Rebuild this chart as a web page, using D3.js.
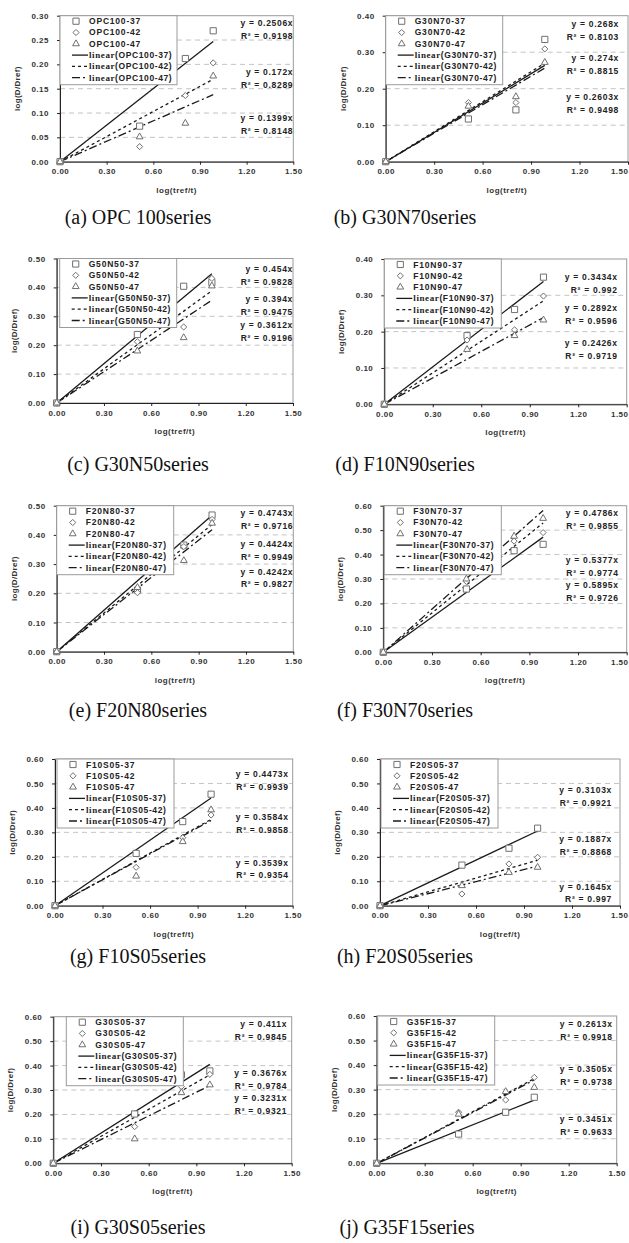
<!DOCTYPE html>
<html>
<head>
<meta charset="utf-8">
<script src="https://cdn.jsdelivr.net/npm/d3@7"></script>
<style>
body { margin: 0; background: #fff; }
</style>
</head>
<body>
<div id="chart"></div>
<script>
// ---- data ----
var xVals = [0, 0.512, 0.806, 0.985];
var xTickVals = [0, 0.3, 0.6, 0.9, 1.2, 1.5];
var ages = ["37", "42", "47"];
var panelNames = ["OPC100", "G30N70", "G50N50", "F10N90", "F20N80", "F30N70", "F10S05", "F20S05", "G30S05", "G35F15"];
var captions = ["(a) OPC 100series", "(b) G30N70series", "(c) G30N50series", "(d) F10N90series",
                "(e) F20N80series", "(f) F30N70series", "(g) F10S05series", "(h) F20S05series",
                "(i) G30S05series", "(j) G35F15series"];
var yMax = [0.30, 0.40, 0.50, 0.40, 0.50, 0.60, 0.60, 0.60, 0.60, 0.60];
var yStep = [0.05, 0.10, 0.10, 0.10, 0.10, 0.10, 0.10, 0.10, 0.10, 0.10];

// fitted slopes (y = a x) and R2, per panel: [37, 42, 47]
var slopes = [
  [0.2506, 0.172, 0.1399], [0.268, 0.274, 0.2603], [0.454, 0.394, 0.3612], [0.3434, 0.2892, 0.2426],
  [0.4743, 0.4424, 0.4242], [0.4786, 0.5377, 0.5895], [0.4473, 0.3584, 0.3539], [0.3103, 0.1887, 0.1645],
  [0.411, 0.3676, 0.3231], [0.2613, 0.3505, 0.3451]
];
var r2 = [
  [0.9198, 0.8289, 0.8148], [0.8103, 0.8815, 0.9498], [0.9828, 0.9475, 0.9196], [0.992, 0.9596, 0.9719],
  [0.9716, 0.9949, 0.9827], [0.9855, 0.9774, 0.9726], [0.9939, 0.9858, 0.9354], [0.9921, 0.8868, 0.997],
  [0.9845, 0.9784, 0.9321], [0.9918, 0.9738, 0.9633]
];

// measured log(D/Dref) at xVals
var pts37 = [
  [0, 0.073, 0.212, 0.269], [0, 0.117, 0.142, 0.335], [0, 0.237, 0.404, 0.417], [0, 0.189, 0.261, 0.350],
  [0, 0.211, 0.365, 0.468], [0, 0.259, 0.416, 0.442], [0, 0.214, 0.344, 0.456], [0, 0.166, 0.235, 0.317],
  [0, 0.202, 0.362, 0.378], [0, 0.119, 0.208, 0.269]
];
var pts42 = [
  [0, 0.031, 0.136, 0.203], [0, 0.162, 0.162, 0.309], [0, 0.212, 0.263, 0.431], [0, 0.177, 0.205, 0.298],
  [0, 0.202, 0.360, 0.453], [0, 0.290, 0.455, 0.490], [0, 0.157, 0.278, 0.371], [0, 0.048, 0.171, 0.198],
  [0, 0.150, 0.314, 0.364], [0, 0.208, 0.258, 0.350]
];
var pts47 = [
  [0, 0.051, 0.079, 0.176], [0, 0.152, 0.178, 0.272], [0, 0.180, 0.226, 0.405], [0, 0.151, 0.189, 0.232],
  [0, 0.220, 0.312, 0.440], [0, 0.300, 0.475, 0.548], [0, 0.121, 0.262, 0.392], [0, 0.082, 0.136, 0.157],
  [0, 0.100, 0.289, 0.321], [0, 0.200, 0.292, 0.309]
];

// ---- layout ----
// plot area [left, top, right, bottom] for each panel
var frames = [
  [60, 15.7, 293.3, 161.7], [385.7, 15.7, 628, 161.7],
  [56.7, 258.5, 293, 403], [384.3, 259, 626.7, 404.3],
  [56.7, 505.7, 293.3, 651.7], [383.3, 505.7, 626.7, 652.3],
  [55, 759, 292.7, 905.7], [380, 759, 620, 905.7],
  [53.3, 1016.7, 291.7, 1163.3], [376.7, 1016, 616.7, 1163.3]
];
var eqOffsets = [
  [7.3, 56.3, 102.3], [8.3, 42.3, 81.3], [10.5, 40.5, 66.5], [18, 49, 84], [7.3, 38.3, 66],
  [7.3, 54.3, 79.3], [15, 58, 103.7], [31, 80, 127.7], [7.5, 56.5, 81.5], [8, 53, 103]
];
var eqDx = [0, -9, 0, -9, 0, -8, -4, -8, -4.5, -4];
var legendDx = [0, 0, 3, 0, 0, 1, 2, 1, 13, 1];
var captionPos = [
  [138, 224], [405, 224], [138, 471], [405, 471], [138, 717],
  [405, 717], [138, 963], [405, 963], [138, 1234], [407, 1234]
];

var W = 629, H = 1243;
var sans = '"Liberation Sans", Arial, sans-serif';
var serif = '"Liberation Serif", "Times New Roman", serif';
var dashes = [null, "3,3", "8,3,2,3"];
var symbols = [d3.symbolSquare, d3.symbolDiamond2 || d3.symbolDiamond, d3.symbolTriangle];
var symSizes = [38, 24, 20];

var svg = d3.select("#chart").append("svg")
    .attr("width", W)
    .attr("height", H)
    .style("display", "block");

svg.append("rect").attr("width", W).attr("height", H).attr("fill", "#fff");

var fmt = d3.format(".2f");

panelNames.forEach(function(name, i) {
  var f = frames[i];
  var x = d3.scaleLinear().domain([0, 1.5]).range([f[0], f[2]]);
  var y = d3.scaleLinear().domain([0, yMax[i]]).range([f[3], f[1]]);
  var yTicks = d3.range(0, Math.round(yMax[i] / yStep[i]) + 1).map(function(k) { return k * yStep[i]; });
  var g = svg.append("g");

  // dashed gridlines
  g.selectAll(".grid")
      .data(yTicks.slice(1, -1))
    .enter().append("line")
      .attr("x1", f[0]).attr("x2", f[2])
      .attr("y1", function(d) { return y(d); })
      .attr("y2", function(d) { return y(d); })
      .attr("stroke", "#c4c4c4")
      .attr("stroke-dasharray", "5,4");

  // plot area border
  g.append("rect")
      .attr("x", f[0]).attr("y", f[1])
      .attr("width", f[2] - f[0]).attr("height", f[3] - f[1])
      .attr("fill", "none")
      .attr("stroke", "#9a9a9a");

  // axes
  var gx = g.append("g")
      .attr("transform", "translate(0," + f[3] + ")")
      .call(d3.axisBottom(x).tickValues(xTickVals).tickFormat(fmt).tickSize(3).tickSizeOuter(0).tickPadding(4));
  var gy = g.append("g")
      .attr("transform", "translate(" + f[0] + ",0)")
      .call(d3.axisLeft(y).tickValues(yTicks).tickFormat(fmt).tickSize(3).tickSizeOuter(0).tickPadding(8));
  [gx, gy].forEach(function(a) {
    a.select(".domain").attr("stroke", "#222");
    a.selectAll(".tick line").attr("stroke", "#222");
    a.selectAll("text")
        .attr("fill", "#333")
        .style("font-family", sans)
        .style("font-size", "8px")
        .style("font-weight", "700")
        .style("letter-spacing", "0.5px");
  });
  // keep the last x label inside the page
  gx.selectAll(".tick").filter(function(d) { return x(d) + 10 > W; })
      .select("text")
      .attr("text-anchor", "end")
      .attr("x", function(d) { return W - 1 - x(d); });

  // axis titles
  g.append("text")
      .attr("x", (f[0] + f[2]) / 2)
      .attr("y", f[3] + 31)
      .attr("text-anchor", "middle")
      .attr("fill", "#333")
      .style("font-family", sans).style("font-size", "8px").style("font-weight", "700")
      .style("letter-spacing", "0.5px")
      .text("log(tref/t)");
  g.append("text")
      .attr("transform", "translate(" + (f[0] - 40) + "," + ((f[1] + f[3]) / 2) + ") rotate(-90)")
      .attr("text-anchor", "middle")
      .attr("fill", "#333")
      .style("font-family", sans).style("font-size", "8px").style("font-weight", "700")
      .style("letter-spacing", "0.3px")
      .text("log(D/Dref)");

  // trend lines y = a x from 0 to last point
  var line = d3.line()
      .x(function(d) { return x(d[0]); })
      .y(function(d) { return y(d[1]); });
  slopes[i].forEach(function(a, k) {
    var xEnd = d3.max(xVals);
    g.append("path")
        .attr("d", line([[0, 0], [xEnd, a * xEnd]]))
        .attr("fill", "none")
        .attr("stroke", "#1a1a1a")
        .attr("stroke-width", 1.3)
        .attr("stroke-dasharray", dashes[k]);
  });

  // markers
  [pts37[i], pts42[i], pts47[i]].forEach(function(vals, k) {
    g.selectAll(".m" + k)
        .data(vals)
      .enter().append("path")
        .attr("transform", function(d, j) { return "translate(" + x(xVals[j]) + "," + y(d) + ")"; })
        .attr("d", d3.symbol().type(symbols[k]).size(symSizes[k]))
        .attr("fill", "#fff")
        .attr("stroke", "#707070")
        .attr("stroke-width", 1);
  });

  // equation labels
  slopes[i].forEach(function(a, k) {
    var ty = f[1] + eqOffsets[i][k];
    var t = g.append("text")
        .attr("text-anchor", "end")
        .attr("fill", "#222")
        .style("font-family", sans).style("font-size", "8.5px").style("font-weight", "700")
        .style("letter-spacing", "0.7px");
    t.append("tspan").attr("x", f[2] + eqDx[i]).attr("y", ty + 3).text("y = " + a + "x");
    t.append("tspan").attr("x", f[2] + eqDx[i]).attr("y", ty + 15.5).text("R\u00b2 = " + r2[i][k]);
  });

  // legend
  var lg = g.append("g").attr("transform", "translate(" + (f[0] + legendDx[i]) + "," + f[1] + ")");
  lg.append("rect")
      .attr("width", 117).attr("height", 69)
      .attr("fill", "#fff")
      .attr("stroke", "#9a9a9a");
  ages.forEach(function(age, k) {
    var ry = 5.5 + k * 11.3;
    lg.append("path")
        .attr("transform", "translate(16," + ry + ")")
        .attr("d", d3.symbol().type(symbols[k]).size(symSizes[k]))
        .attr("fill", "#fff").attr("stroke", "#707070");
    lg.append("text")
        .attr("x", 29).attr("y", ry + 3)
        .attr("fill", "#222")
        .style("font-family", sans).style("font-size", "8.5px").style("font-weight", "700")
        .style("letter-spacing", "0.8px")
        .text(name + "-" + age);
    var ly = 5.5 + (k + 3) * 11.3;
    lg.append("line")
        .attr("x1", 12).attr("x2", 28).attr("y1", ly).attr("y2", ly)
        .attr("stroke", "#1a1a1a").attr("stroke-width", 1.3)
        .attr("stroke-dasharray", dashes[k]);
    var lt = lg.append("text")
        .attr("x", 29).attr("y", ly + 3)
        .attr("fill", "#222")
        .style("font-size", "8.5px").style("font-weight", "700")
        .style("letter-spacing", "0.6px");
    lt.append("tspan").style("font-family", serif).style("font-size", "9px").text("linear");
    lt.append("tspan").style("font-family", sans).text("(" + name + "-" + age + ")");
  });

  // caption
  svg.append("text")
      .attr("x", captionPos[i][0])
      .attr("y", captionPos[i][1])
      .attr("text-anchor", "middle")
      .attr("fill", "#111")
      .style("font-family", serif)
      .style("font-size", "20px")
      .text(captions[i]);
});
</script>
</body>
</html>
